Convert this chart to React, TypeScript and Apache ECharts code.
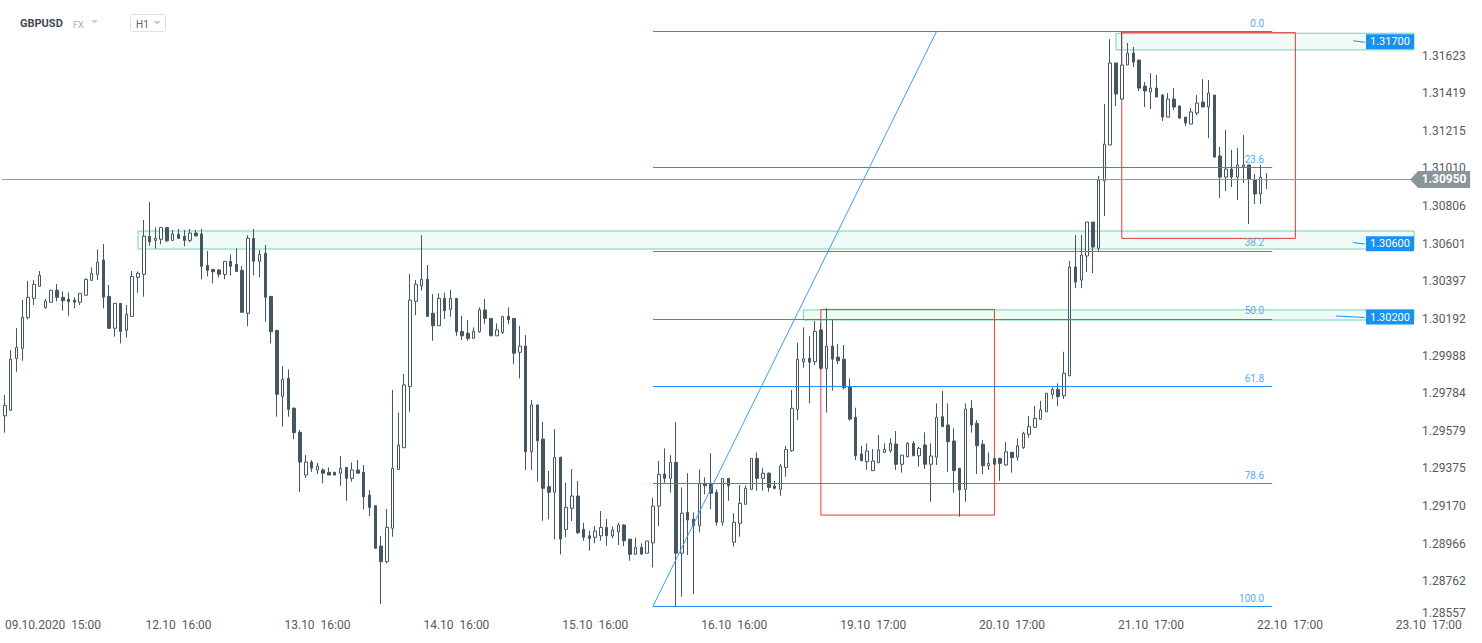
import React, { useEffect, useRef } from "react";
import * as echarts from "echarts";

// ---------- axes ----------
const PLOT_SLOTS = 244; // hourly slots inside the plot area
const AXIS_SLOTS = 255; // hourly slots under the time scale (runs under the price scale)
const TIME_TICK_INDEX = [0, 30, 54, 78, 102, 126, 150, 174, 198, 222, 246];
const TIME_TICK_LABELS = [
  "09.10.2020  15:00",
  "12.10  16:00",
  "13.10  16:00",
  "14.10  16:00",
  "15.10  16:00",
  "16.10  16:00",
  "19.10  17:00",
  "20.10  17:00",
  "21.10  17:00",
  "22.10  17:00",
  "23.10  17:00",
];
const PRICE_TICKS = [
  1.28557, 1.28762, 1.28966, 1.2917, 1.29375, 1.29579, 1.29784, 1.29988,
  1.30192, 1.30397, 1.30601, 1.30806, 1.3101, 1.31215, 1.31419, 1.31623,
];
const PRICE_MIN = 1.2855465;
const PRICE_MAX = 1.319282;

// ---------- candles (H1) ----------
const OPEN = [
  1.29662, 1.29692, 1.29975, 1.3003, 1.30197, 1.30302, 1.30368, 1.30251, 1.30281, 1.30346,
  1.30308, 1.30298, 1.30293, 1.30281, 1.30319, 1.304, 1.30433, 1.30511, 1.30313, 1.30139,
  1.30275, 1.30128, 1.30204, 1.30417, 1.30433, 1.3064, 1.30618, 1.30624, 1.30689, 1.30618,
  1.30651, 1.3064, 1.30618, 1.30658, 1.30653, 1.30482, 1.3046, 1.30457, 1.30433, 1.30504,
  1.30488, 1.30455, 1.30221, 1.30629, 1.30504, 1.30548, 1.30313, 1.30128, 1.29768, 1.29866,
  1.29703, 1.29572, 1.29339, 1.2941, 1.29367, 1.29367, 1.29354, 1.29354, 1.29349, 1.29381,
  1.29321, 1.29367, 1.29354, 1.2923, 1.29172, 1.28952, 1.28867, 1.29049, 1.2937, 1.29488,
  1.29821, 1.30286, 1.30371, 1.30406, 1.30221, 1.30153, 1.30302, 1.30242, 1.30302, 1.30122,
  1.30112, 1.30084, 1.3012, 1.30239, 1.30193, 1.30098, 1.30117, 1.30204, 1.30193, 1.30008,
  1.30042, 1.29466, 1.29721, 1.29535, 1.29276, 1.29245, 1.29436, 1.29043, 1.29158, 1.29225,
  1.29043, 1.29008, 1.29, 1.29008, 1.29054, 1.29007, 1.2903, 1.29067, 1.2899, 1.28907,
  1.28945, 1.28913, 1.2897, 1.2917, 1.29345, 1.29321, 1.29408, 1.28913, 1.29136, 1.29098,
  1.29063, 1.29294, 1.2929, 1.29245, 1.29082, 1.29321, 1.28973, 1.29076, 1.2918, 1.29261,
  1.2943, 1.29321, 1.29349, 1.29279, 1.29261, 1.29381, 1.29472, 1.29697, 1.29957, 1.29975,
  1.29957, 1.3013, 1.29921, 1.30042, 1.29982, 1.2997, 1.29821, 1.29654, 1.29454, 1.29412,
  1.29363, 1.29406, 1.29463, 1.29472, 1.29508, 1.29398, 1.29439, 1.29512, 1.29444, 1.29503,
  1.29398, 1.29436, 1.29657, 1.29612, 1.29525, 1.29376, 1.29261, 1.29703, 1.29621, 1.29507,
  1.2939, 1.2943, 1.2943, 1.29394, 1.29463, 1.29436, 1.2949, 1.29561, 1.29599, 1.29643,
  1.29684, 1.29779, 1.29806, 1.29771, 1.2988, 1.30473, 1.30402, 1.30533, 1.30718, 1.30576,
  1.30942, 1.31138, 1.31585, 1.31388, 1.31574, 1.31639, 1.31601, 1.31459, 1.31427, 1.31448,
  1.3141, 1.3129, 1.31388, 1.3135, 1.3129, 1.31252, 1.31312, 1.31372, 1.31345, 1.3141,
  1.31078, 1.30963, 1.31007, 1.30963, 1.31018, 1.31029, 1.30947, 1.30871, 1.30947,
];
const CLOSE = [
  1.29719, 1.2997, 1.30035, 1.30199, 1.30308, 1.30379, 1.30428, 1.30286, 1.30346, 1.30308,
  1.30289, 1.30284, 1.30281, 1.3033, 1.30406, 1.30439, 1.30499, 1.30308, 1.30139, 1.30275,
  1.30122, 1.30215, 1.30422, 1.30439, 1.3064, 1.30611, 1.30629, 1.30689, 1.30616, 1.30653,
  1.30629, 1.30618, 1.30658, 1.30643, 1.30477, 1.30455, 1.30447, 1.30433, 1.30504, 1.30477,
  1.30449, 1.30226, 1.30629, 1.30504, 1.30542, 1.30308, 1.3012, 1.29779, 1.29861, 1.29697,
  1.2957, 1.2941, 1.2941, 1.29377, 1.29388, 1.29349, 1.29339, 1.29339, 1.29376, 1.29321,
  1.29367, 1.29349, 1.29221, 1.29163, 1.2894, 1.28867, 1.29054, 1.29376, 1.29503, 1.2983,
  1.30293, 1.30379, 1.30406, 1.30204, 1.30153, 1.30302, 1.30235, 1.30302, 1.3012, 1.30098,
  1.30084, 1.30122, 1.30239, 1.30193, 1.30098, 1.3013, 1.30204, 1.30186, 1.30003, 1.30042,
  1.29466, 1.29721, 1.29526, 1.29267, 1.29245, 1.29436, 1.2899, 1.29163, 1.29225, 1.29025,
  1.29, 1.28994, 1.29034, 1.29054, 1.29008, 1.2904, 1.29067, 1.28981, 1.28907, 1.28945,
  1.28909, 1.2898, 1.2917, 1.29343, 1.29321, 1.29408, 1.28913, 1.29131, 1.29094, 1.29063,
  1.29294, 1.29281, 1.2924, 1.29082, 1.29321, 1.29281, 1.29082, 1.29185, 1.29267, 1.2943,
  1.29321, 1.29349, 1.29272, 1.29267, 1.29388, 1.29479, 1.29703, 1.2997, 1.29973, 1.29954,
  1.30122, 1.29921, 1.30042, 1.29971, 1.29962, 1.29815, 1.29644, 1.29444, 1.29417, 1.2947,
  1.29416, 1.29476, 1.29479, 1.29512, 1.29398, 1.29448, 1.29512, 1.29444, 1.29485, 1.29398,
  1.29443, 1.29654, 1.29603, 1.29521, 1.29363, 1.29258, 1.29699, 1.29612, 1.29499, 1.2939,
  1.29403, 1.29398, 1.29403, 1.29466, 1.29434, 1.29499, 1.29567, 1.29603, 1.29648, 1.29694,
  1.29785, 1.29806, 1.29766, 1.29894, 1.30473, 1.30391, 1.30538, 1.30718, 1.30582, 1.30947,
  1.31143, 1.31585, 1.31416, 1.31574, 1.31639, 1.3159, 1.31448, 1.31432, 1.31448, 1.31399,
  1.3129, 1.31388, 1.31345, 1.31285, 1.31258, 1.31318, 1.31367, 1.31345, 1.31421, 1.31072,
  1.30963, 1.31007, 1.30963, 1.31029, 1.31029, 1.30952, 1.30871, 1.30963, 1.3095,
];
const LOW = [
  1.2957, 1.29692, 1.29902, 1.29962, 1.30188, 1.30266, 1.30368, 1.30246, 1.30281, 1.30286,
  1.30235, 1.30207, 1.30248, 1.30266, 1.30319, 1.304, 1.30402, 1.30248, 1.30139, 1.30093,
  1.30057, 1.30088, 1.30204, 1.30333, 1.30311, 1.30589, 1.30573, 1.30597, 1.30608, 1.30618,
  1.30629, 1.30586, 1.30608, 1.3064, 1.30406, 1.30422, 1.30384, 1.30417, 1.30406, 1.30428,
  1.30449, 1.30226, 1.3015, 1.30428, 1.30417, 1.30175, 1.30057, 1.29657, 1.29603, 1.29657,
  1.29534, 1.29247, 1.29323, 1.29356, 1.29345, 1.29294, 1.29339, 1.29339, 1.29281, 1.29199,
  1.29303, 1.29349, 1.29152, 1.29116, 1.2894, 1.28636, 1.28858, 1.29003, 1.2937, 1.29488,
  1.29684, 1.30211, 1.30344, 1.30204, 1.30071, 1.30153, 1.30189, 1.30202, 1.30098, 1.30075,
  1.30071, 1.30084, 1.30115, 1.30161, 1.30098, 1.30098, 1.30108, 1.30161, 1.29943, 1.29866,
  1.29367, 1.29367, 1.29303, 1.2909, 1.29098, 1.28989, 1.28907, 1.29, 1.29089, 1.29018,
  1.28981, 1.28927, 1.28967, 1.28981, 1.28954, 1.28994, 1.28958, 1.28952, 1.28872, 1.28907,
  1.28903, 1.28913, 1.28836, 1.29061, 1.29297, 1.29243, 1.28625, 1.28676, 1.28903, 1.28691,
  1.29027, 1.29234, 1.29154, 1.29063, 1.29063, 1.29199, 1.28949, 1.29003, 1.2918, 1.29261,
  1.29254, 1.29254, 1.29248, 1.29261, 1.29226, 1.2933, 1.29466, 1.29639, 1.29924, 1.2973,
  1.29939, 1.29912, 1.29679, 1.29799, 1.29944, 1.29806, 1.29635, 1.29421, 1.29417, 1.29367,
  1.29363, 1.29406, 1.29463, 1.29461, 1.29367, 1.29352, 1.29436, 1.29444, 1.29385, 1.29372,
  1.29194, 1.29394, 1.29603, 1.29357, 1.29243, 1.29112, 1.29194, 1.2957, 1.29345, 1.29345,
  1.29367, 1.29398, 1.29308, 1.2939, 1.29352, 1.29417, 1.29481, 1.29543, 1.29599, 1.29643,
  1.29684, 1.29754, 1.29715, 1.29754, 1.2988, 1.30358, 1.30358, 1.30446, 1.3044, 1.3056,
  1.30751, 1.31138, 1.3135, 1.31388, 1.31574, 1.31563, 1.31432, 1.31345, 1.31334, 1.31399,
  1.31269, 1.3129, 1.31329, 1.31279, 1.31241, 1.31252, 1.31301, 1.31345, 1.31176, 1.31072,
  1.30849, 1.30887, 1.30909, 1.30838, 1.30931, 1.30707, 1.30816, 1.30816, 1.30898,
];
const HIGH = [
  1.29775, 1.30021, 1.3014, 1.30293, 1.30398, 1.30402, 1.30451, 1.30299, 1.30346, 1.3038,
  1.3034, 1.30335, 1.30308, 1.3033, 1.30411, 1.30471, 1.30569, 1.30598, 1.30375, 1.30275,
  1.30275, 1.30266, 1.30451, 1.30449, 1.30729, 1.30827, 1.30689, 1.30689, 1.30689, 1.30675,
  1.3068, 1.30675, 1.3068, 1.30675, 1.3068, 1.3056, 1.3046, 1.30462, 1.30504, 1.30542,
  1.30575, 1.30477, 1.30646, 1.3068, 1.30566, 1.30593, 1.30313, 1.30128, 1.29932, 1.29915,
  1.29708, 1.29585, 1.29448, 1.29421, 1.29405, 1.29376, 1.29381, 1.29357, 1.29443, 1.29381,
  1.29408, 1.29421, 1.29394, 1.29258, 1.29176, 1.29007, 1.29154, 1.29803, 1.29679, 1.2989,
  1.30435, 1.30402, 1.30647, 1.30484, 1.30326, 1.3033, 1.30333, 1.30348, 1.30302, 1.30206,
  1.30184, 1.30144, 1.30253, 1.30298, 1.30193, 1.30166, 1.30204, 1.30253, 1.30193, 1.30151,
  1.30102, 1.29748, 1.29725, 1.2963, 1.29361, 1.2959, 1.29439, 1.29297, 1.29372, 1.29307,
  1.29079, 1.29036, 1.29061, 1.29143, 1.29099, 1.29058, 1.29079, 1.29072, 1.2899, 1.28998,
  1.28967, 1.2898, 1.29216, 1.29416, 1.29485, 1.29448, 1.29627, 1.29272, 1.29349, 1.29136,
  1.2937, 1.29327, 1.29458, 1.29261, 1.29321, 1.29321, 1.29131, 1.29285, 1.29283, 1.2943,
  1.29463, 1.29376, 1.29354, 1.29307, 1.29398, 1.29497, 1.29803, 1.3006, 1.30144, 1.30097,
  1.30179, 1.30169, 1.30248, 1.30184, 1.30053, 1.30048, 1.29866, 1.29706, 1.29499, 1.29512,
  1.29481, 1.29557, 1.29512, 1.29539, 1.29579, 1.29448, 1.29518, 1.29525, 1.29494, 1.29572,
  1.29512, 1.2973, 1.29797, 1.2973, 1.29594, 1.29376, 1.2973, 1.29748, 1.29639, 1.2953,
  1.29463, 1.2943, 1.29434, 1.29518, 1.29466, 1.29539, 1.29575, 1.29661, 1.29715, 1.29744,
  1.29785, 1.29817, 1.29839, 1.30011, 1.30506, 1.30647, 1.30647, 1.30718, 1.30718, 1.30969,
  1.31361, 1.31715, 1.31585, 1.31759, 1.31694, 1.31672, 1.31601, 1.31481, 1.3153, 1.31519,
  1.31416, 1.31421, 1.31448, 1.31356, 1.3129, 1.31339, 1.3141, 1.31497, 1.31492, 1.3141,
  1.31127, 1.3122, 1.31111, 1.31121, 1.31192, 1.31029, 1.3098, 1.31029, 1.30985,
];
const LAST_PRICE = 1.3095;

// ---------- Fibonacci retracement ----------
const FIB_HIGH = 1.31757;
const FIB_LOW = 1.28625;
const FIB_RATIOS = [0, 23.6, 38.2, 50, 61.8, 78.6, 100];
const FIB_LABELS = ["0.0", "23.6", "38.2", "50.0", "61.8", "78.6", "100.0"];
const FIB_FROM = 112;
const FIB_TO = 219;
const TREND_FROM = 112;
const TREND_TO = 161;

// ---------- support / resistance zones ----------
const ZONE_LEVELS = [1.317, 1.306, 1.302];
const ZONE_TOP = [1.31747, 1.30669, 1.30239];
const ZONE_BOTTOM = [1.31656, 1.30571, 1.30184];
const ZONE_FROM = [192, 23, 138];
const ZONE_LINK_FROM = [233, 233, 230];
const ZONE_LINK_TO = 235;
const ZONE_TAG_SLOT = 239;

// ---------- red boxes ----------
const BOX_FROM = [193, 141];
const BOX_TO = [223, 171];
const BOX_TOP = [1.3175, 1.30242];
const BOX_BOTTOM = [1.30629, 1.29121];

const DARK = "#465660";
const PRICE_LINE = "#8f999f";
const FIB_COLOR = "#1e8cf0";
const FIB_TEXT = "#58aaf2";
const TAG_BLUE = "#1592f4";
const ZONE_BORDER = "#73d5af";
const RED = "#e53a35";
const FONT = "Roboto";

function buildOption() {
  const plotSlots = Array.from({ length: PLOT_SLOTS }, (_, i) => String(i));
  const axisSlots = Array.from({ length: AXIS_SLOTS }, (_, i) => String(i));
  const candles = OPEN.map((o, i) => [o, CLOSE[i], LOW[i], HIGH[i]]);

  const fibLines = FIB_RATIOS.map((r, k) => {
    const p = FIB_HIGH - ((FIB_HIGH - FIB_LOW) * r) / 100;
    return [
      {
        coord: [FIB_FROM, p],
        lineStyle: { color: FIB_COLOR, width: 1, type: "solid" },
        label: {
          show: true,
          position: "insideEndTop",
          formatter: FIB_LABELS[k],
          color: FIB_TEXT,
          fontSize: 10,
          fontFamily: FONT,
          distance: [8, 3],
        },
      },
      { coord: [FIB_TO, p] },
    ];
  });

  const trend = [
    { coord: [TREND_FROM, FIB_LOW], lineStyle: { color: "#3d9ef5", width: 1, type: "solid" } },
    { coord: [TREND_TO, FIB_HIGH] },
  ];

  const links = ZONE_LEVELS.map((lv, k) => [
    { coord: [ZONE_LINK_FROM[k], lv + 0.00006], lineStyle: { color: TAG_BLUE, width: 1, type: "solid" } },
    { coord: [ZONE_LINK_TO, lv - 0.00002] },
  ]);

  const zones = ZONE_LEVELS.map((_, k) => [
    {
      coord: [ZONE_FROM[k], ZONE_TOP[k]],
      itemStyle: { color: "rgba(110, 205, 165, 0.1)", borderColor: ZONE_BORDER, borderWidth: 1 },
    },
    { yAxis: ZONE_BOTTOM[k] },
  ]);

  const boxes = BOX_FROM.map((f, k) => [
    {
      coord: [f, BOX_TOP[k]],
      itemStyle: { color: "rgba(0,0,0,0)", borderColor: RED, borderWidth: 1 },
    },
    { coord: [BOX_TO[k], BOX_BOTTOM[k]] },
  ]);

  const zoneTags = ZONE_LEVELS.map((lv) => ({
    coord: [ZONE_TAG_SLOT, lv],
    symbol: "rect",
    symbolSize: [48, 15],
    symbolOffset: [2, 0],
    itemStyle: { color: TAG_BLUE },
    label: {
      show: true,
      position: "inside",
      formatter: lv.toFixed(5),
      color: "#ffffff",
      fontSize: 11,
      fontFamily: FONT,
    },
  }));

  return {
    animation: false,
    backgroundColor: "#ffffff",
    grid: [
      { left: 2, top: 0, width: 1412, height: 619 },
      { left: 2, top: 0, width: 1476, height: 619 },
    ],
    xAxis: [
      {
        type: "category",
        gridIndex: 0,
        data: plotSlots,
        boundaryGap: true,
        show: false,
      },
      {
        type: "category",
        gridIndex: 1,
        data: axisSlots,
        boundaryGap: true,
        axisLine: { show: false },
        axisTick: { show: false },
        splitLine: { show: false },
        axisLabel: {
          interval: (i: number) => TIME_TICK_INDEX.indexOf(i) >= 0,
          formatter: (_v: string, i: number) => {
            const k = TIME_TICK_INDEX.indexOf(i);
            return k >= 0 ? TIME_TICK_LABELS[k] : "";
          },
          alignMinLabel: "left",
          color: "#555a5e",
          fontSize: 12,
          fontFamily: FONT,
          margin: 0,
        },
      },
    ],
    yAxis: [
      {
        type: "value",
        gridIndex: 0,
        position: "right",
        min: PRICE_MIN,
        max: PRICE_MAX,
        axisLine: { show: false },
        axisTick: { show: false, customValues: PRICE_TICKS },
        splitLine: { show: false },
        axisLabel: {
          customValues: PRICE_TICKS,
          formatter: (v: number) => v.toFixed(5),
          color: "#555a5e",
          fontSize: 12,
          fontFamily: FONT,
          margin: 8,
          verticalAlignMinLabel: "bottom",
        },
      },
      { type: "value", gridIndex: 1, show: false },
    ],
    graphic: [
      { type: "text", left: 20, top: 18, style: { text: "GBPUSD", font: `bold 11px ${FONT}`, fill: "#3d4951" } },
      { type: "text", left: 73, top: 20, style: { text: "FX", font: `9px ${FONT}`, fill: "#a3abb0" } },
      { type: "polygon", shape: { points: [[91, 20], [98, 20], [94.5, 23.5]] }, style: { fill: "#c9cdd1" } },
      {
        type: "rect",
        shape: { x: 130.5, y: 14.5, width: 35, height: 17, r: 2 },
        style: { fill: "#ffffff", stroke: "#dfe2e5", lineWidth: 1 },
      },
      { type: "text", left: 136, top: 19, style: { text: "H1", font: `10px ${FONT}`, fill: "#5d656b" } },
      { type: "polygon", shape: { points: [[153, 21], [161, 21], [157, 24.5]] }, style: { fill: "#c9cdd1" } },
    ],
    series: [
      {
        type: "candlestick",
        name: "GBPUSD",
        xAxisIndex: 0,
        yAxisIndex: 0,
        data: candles,
        barWidth: 3,
        itemStyle: {
          color: "#ffffff",
          color0: DARK,
          borderColor: DARK,
          borderColor0: DARK,
          borderColorDoji: DARK,
          borderWidth: 1,
        },
        markArea: {
          silent: true,
          label: { show: false },
          data: [...zones, ...boxes],
        },
        markLine: {
          silent: true,
          precision: 5,
          symbol: ["none", "none"],
          label: { show: false },
          lineStyle: { color: PRICE_LINE, width: 1, type: "solid" },
          emphasis: { disabled: true },
          data: [
            { yAxis: LAST_PRICE, lineStyle: { color: PRICE_LINE, width: 1, type: "solid" } },
            ...fibLines,
            trend,
            ...links,
          ],
        },
        markPoint: {
          silent: true,
          data: [
            {
              coord: [PLOT_SLOTS - 1, LAST_PRICE],
              symbol: "path://M0,8.5L8,0L60,0L60,17L8,17Z",
              symbolSize: [60, 17],
              symbolOffset: [29, 0],
              itemStyle: { color: "#8a959b" },
              label: {
                show: true,
                position: "inside",
                formatter: LAST_PRICE.toFixed(5),
                color: "#ffffff",
                fontSize: 12,
                fontWeight: "bold",
                fontFamily: FONT,
                offset: [4, 0],
              },
            },
            ...zoneTags,
          ],
        },
      },
    ],
  };
}

export default function App() {
  const ref = useRef<HTMLDivElement>(null);
  useEffect(() => {
    document.body.style.margin = "0";
    const chart = echarts.init(ref.current as HTMLDivElement, null, { renderer: "svg" });
    chart.setOption(buildOption() as any);
    return () => chart.dispose();
  }, []);
  return <div ref={ref} style={{ width: 1482, height: 643 }} />;
}
